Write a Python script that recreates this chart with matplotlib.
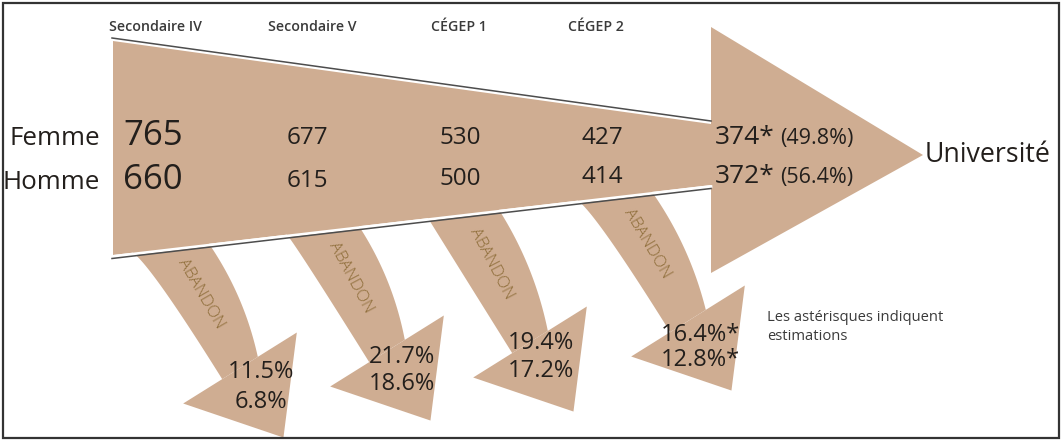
import numpy as np
import matplotlib.pyplot as plt
from matplotlib.patches import Polygon, Rectangle

plt.rcParams['font.family'] = ['Open Sans', 'DejaVu Sans']

# données
etapes = ["Secondaire IV", "Secondaire V", "CÉGEP 1", "CÉGEP 2"]
sexes = ["Femme", "Homme"]
femmes = [765, 677, 530, 427, 374]
hommes = [660, 615, 500, 414, 372]
univ_pct = [49.8, 56.4]
abandon_femmes = [11.5, 21.7, 19.4, 16.4]
abandon_hommes = [6.8, 18.6, 17.2, 12.8]
abandon_estime = [False, False, False, True]
note = "Les astérisques indiquent\nestimations"

# mise en page, en pixels (y vers le bas)
W, H = 1062, 441
BEIGE = '#cfad92'
TXT = '#231f1c'
LIGNE = '#4d4d4d'

x0, x1 = 113, 711
top_y = (41, 124)
bot_y = (255, 185)
tete = [(711, 27), (711, 273), (923, 155)]

col_x = [155, 312, 459, 596]          # titres des étapes
val_x = [123, 307, 460, 602, 715]     # nombres
row_base = [[145, 144, 144, 144, 144], [189, 187, 185, 183, 183]]

band_top = [(133, 209), (287, 359), (428, 499), (578, 652)]
band_end = [(240, 368), (387, 351), (530, 342), (688, 321)]
pct_pos = [[(261, 372), (261, 402)], [(402, 357), (402, 384)],
           [(541, 343), (541, 371)], [(700, 335), (700, 360)]]


def ybas(x):
    return bot_y[0] + (x - x0) * (bot_y[1] - bot_y[0]) / (x1 - x0)


def qbez(p0, p1, p2, n=60):
    t = np.linspace(0, 1, n)[:, None]
    return (1 - t) ** 2 * p0 + 2 * (1 - t) * t * p1 + t ** 2 * p2


fig = plt.figure(figsize=(W / 100, H / 100), dpi=100)
ax = fig.add_axes([0, 0, 1, 1])
ax.set_xlim(0, W)
ax.set_ylim(H, 0)
ax.axis('off')

# flèches d'abandon
ang = np.radians(58)
d = np.array([np.cos(ang), np.sin(ang)])
nb = np.array([d[1], -d[0]])
for i in range(len(etapes)):
    E = np.array(band_end[i], float)
    L0 = np.array([band_top[i][0], ybas(band_top[i][0])])
    R0 = np.array([band_top[i][1], ybas(band_top[i][1])])
    L2 = E - 21 * nb
    R2 = E + 21 * nb
    L1 = L2 - 0.85 * np.linalg.norm(L2 - L0) * d
    ch = R2 - R0
    R1 = (R0 + R2) / 2 + 12 * np.array([ch[1], -ch[0]]) / np.linalg.norm(ch)
    left = qbez(L0, L1, L2)
    right = qbez(R0, R1, R2)
    pts = np.vstack([L0 - [0, 12], left, right[::-1], R0 - [0, 12]])
    ax.add_patch(Polygon(pts, closed=True, fc=BEIGE, ec='none', zorder=1))
    head = [E - 67 * nb, E + 67 * nb, E + 82 * d]
    ax.add_patch(Polygon(head, closed=True, fc=BEIGE, ec='none', zorder=1))

    k = 29
    c = (left[k] + right[k]) / 2
    tg = (left[k + 3] + right[k + 3]) / 2 - (left[k - 3] + right[k - 3]) / 2
    rot = -np.degrees(np.arctan2(tg[1], tg[0]))
    ax.text(c[0], c[1], "ABANDON", rotation=rot, rotation_mode='anchor',
            ha='center', va='center', fontsize=12, fontweight='light',
            color='#8d6c38', zorder=3)

    star = "*" if abandon_estime[i] else ""
    (xa, ya), (xb, yb) = pct_pos[i]
    ax.text(xa, ya, f"{abandon_femmes[i]}%{star}", ha='center', va='center',
            fontsize=17, color=TXT, zorder=3)
    ax.text(xb, yb, f"{abandon_hommes[i]}%{star}", ha='center', va='center',
            fontsize=17, color=TXT, zorder=3)

# entonnoir principal
corps = [(x0, top_y[0]), (x1, top_y[1]), (x1, bot_y[1]), (x0, bot_y[0])]
ax.add_patch(Polygon(corps, closed=True, fc=BEIGE, ec='none', zorder=2))
ax.add_patch(Polygon(tete, closed=True, fc=BEIGE, ec='none', zorder=2))
ax.plot([x0 - 1, x1], [top_y[0] - 3, top_y[1] - 3], color=LIGNE, lw=1.1, zorder=3)
ax.plot([x0 - 1, x1], [bot_y[0] + 1.5, bot_y[1] + 1.5], color='white', lw=2, zorder=3)
ax.plot([x0 - 1, x1], [bot_y[0] + 3.5, bot_y[1] + 3.5], color=LIGNE, lw=1.1, zorder=3)

# titres des étapes
for x, lab in zip(col_x, etapes):
    ax.text(x, 27, lab, ha='center', va='center', fontsize=10.2,
            fontweight='semibold', color='#3a3a3a')

# nombres par sexe
for r, (nom, vals) in enumerate(zip(sexes, [femmes, hommes])):
    ax.text(100, row_base[r][0], nom, ha='right', va='baseline',
            fontsize=18.7, color=TXT)
    for j, v in enumerate(vals):
        if j == 0:
            ax.text(val_x[j], row_base[r][j], str(v), ha='left', va='baseline',
                    fontsize=25, color=TXT, zorder=4)
        elif j < len(vals) - 1:
            ax.text(val_x[j], row_base[r][j], str(v), ha='center', va='baseline',
                    fontsize=17.5, color=TXT, zorder=4)
        else:
            ax.text(val_x[j], row_base[r][j], f"{v}*", ha='left', va='baseline',
                    fontsize=19, color=TXT, zorder=4)
            ax.text(780, row_base[r][j], f"({univ_pct[r]}%)", ha='left',
                    va='baseline', fontsize=15.5, color=TXT, zorder=4)

ax.text(925, 155, "Université", ha='left', va='center', fontsize=19.3, color=TXT)
ax.text(767, 327, note, ha='left', va='center', fontsize=10.6,
        color='#3a3a3a', linespacing=1.45)

# cadre
ax.add_patch(Rectangle((3, 3), W - 6, H - 6, fill=False, ec='#333333', lw=1.6))

fig.savefig("out.png", dpi=100)
